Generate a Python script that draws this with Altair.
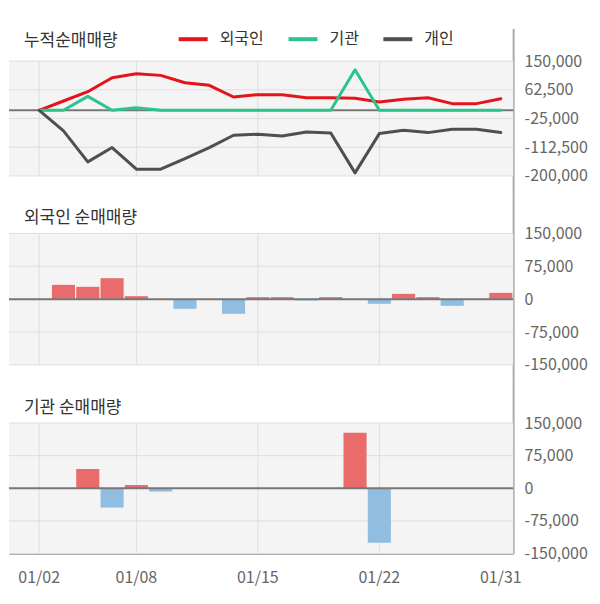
import altair as alt
import pandas as pd

# ---------------- data ----------------
dates = ["01/02", "01/03", "01/04", "01/07", "01/08", "01/09", "01/10", "01/11",
         "01/14", "01/15", "01/16", "01/17", "01/18", "01/21", "01/22", "01/23",
         "01/24", "01/25", "01/28", "01/31"]

foreign_cum = [0, 28400, 56800, 99400, 111600, 106500, 84200, 76100, 40600, 47700,
               47700, 38500, 38500, 36500, 25400, 33500, 38500, 20300, 20300, 35500]
inst_cum = [0, 0, 42600, 0, 8100, 0, 0, 0, 0, 0,
            0, 0, 0, 123800, 0, 0, 0, 0, 0, 0]
indiv_cum = [0, -62900, -157200, -113600, -179600, -179600, -147100, -113600, -76100, -73000,
             -78100, -65900, -69000, -190700, -71000, -60900, -68000, -57800, -57800, -67800]

foreign_daily = [0, 32600, 28100, 47800, 6800, 0, -22000, 0, -33400, 4600,
                 4600, -3000, 4600, 0, -10600, 12100, 4600, -15200, 0, 14400]
inst_daily = [0, 0, 44300, -44300, 7600, -7600, 0, 0, 0, 0,
              0, 0, 0, 127500, -125200, 0, 0, 0, 0, 0]

series_names = ["외국인", "기관", "개인"]
series_colors = ["#e5141b", "#2cc48c", "#4f4f4f"]

grid_dates = ["01/02", "01/08", "01/15", "01/22"]
label_dates = ["01/02", "01/08", "01/15", "01/22", "01/31"]

ticks_cum = [150000, 62500, -25000, -112500, -200000]
ticks_daily = [150000, 75000, 0, -75000, -150000]

titles = ["누적순매매량", "외국인 순매매량", "기관 순매매량"]

# ---------------- style ----------------
FONT = "Noto Sans CJK KR"
W = 505
BG = "#f4f4f4"
GRID = "#dedede"
ZERO = "#777777"
AXIS = "#aaaaaa"
RED_BAR = "#e96b6b"
BLUE_BAR = "#90bde0"

xscale = alt.Scale(type="band", domain=dates, paddingInner=0.05,
                   paddingOuter=0.4, align=0.96)

label_expr = "(datum.value < 0 ? '-' : '') + format(abs(datum.value), ',')"


def y_axis(ticks):
    return alt.Axis(orient="right", values=ticks, title=None, grid=False,
                    ticks=False, domain=True, domainColor=AXIS, domainWidth=2,
                    labelPadding=11, labelFontSize=16, labelColor="#666666",
                    labelFont=FONT, labelExpr=label_expr)


def x_axis(show):
    if not show:
        return None
    return alt.Axis(values=label_dates, title=None, labelAngle=0, ticks=False,
                    grid=False, domain=True, domainColor=AXIS, domainWidth=2,
                    labelPadding=16, labelFontSize=16, labelColor="#666666",
                    labelFont=FONT)


def base_layers(ticks, ydomain, show_x):
    ys = alt.Scale(domain=ydomain, nice=False, zero=False)
    ya = y_axis(ticks)
    xa = x_axis(show_x)
    bg_df = pd.DataFrame({"top": [ticks[0]], "bottom": [ticks[-1]]})
    bg = alt.Chart(bg_df).mark_rect(color=BG).encode(
        x=alt.value(0), x2=alt.value("width"),
        y=alt.Y("top:Q", scale=ys, axis=ya), y2="bottom:Q")
    hgrid = alt.Chart(pd.DataFrame({"v": ticks})).mark_rule(
        color=GRID, strokeWidth=1).encode(y=alt.Y("v:Q", scale=ys, axis=ya))
    vg_df = pd.DataFrame({"d": grid_dates, "top": ticks[0], "bottom": ticks[-1]})
    vgrid = alt.Chart(vg_df).mark_rule(color=GRID, strokeWidth=1).encode(
        x=alt.X("d:N", scale=xscale, axis=xa),
        y=alt.Y("top:Q", scale=ys, axis=ya), y2="bottom:Q")
    zero = alt.Chart(pd.DataFrame({"z": [0]})).mark_rule(
        color=ZERO, strokeWidth=2).encode(y=alt.Y("z:Q", scale=ys, axis=ya))
    return ys, ya, xa, bg, hgrid, vgrid, zero


def title_layer(text, ty):
    return alt.Chart(pd.DataFrame({"t": [text]})).mark_text(
        align="left", baseline="middle", font=FONT, fontSize=17,
        color="#333333").encode(x=alt.value(15), y=alt.value(ty), text="t:N")


# ---------- panel 1: cumulative lines ----------
ys1, ya1, xa1, bg1, hg1, vg1, z1 = base_layers(ticks_cum, [-258740, 249522], False)
rows = []
for name, vals in zip(series_names, [foreign_cum, inst_cum, indiv_cum]):
    for d, v in zip(dates, vals):
        rows.append({"d": d, "series": name, "v": v})
line_df = pd.DataFrame(rows)
lines = alt.Chart(line_df).mark_line(strokeWidth=3, strokeJoin="round",
                                     strokeCap="round").encode(
    x=alt.X("d:N", scale=xscale, axis=xa1),
    y=alt.Y("v:Q", scale=ys1, axis=ya1),
    color=alt.Color("series:N",
                    scale=alt.Scale(domain=series_names, range=series_colors),
                    legend=alt.Legend(orient="none", legendX=168, legendY=-6,
                                      direction="horizontal", title=None,
                                      symbolType="stroke", symbolSize=841,
                                      symbolStrokeWidth=4, labelFontSize=16,
                                      labelFont=FONT, labelColor="#333333",
                                      labelOffset=10, columnPadding=16,
                                      padding=0)),
    order=alt.value(0))
p1 = alt.layer(bg1, hg1, vg1, z1, lines, title_layer(titles[0], 12.5)).properties(
    width=W, height=167)


# ---------- bar panels ----------
def bar_panel(vals, ydomain, height, title, ty, show_x):
    ys, ya, xa, bg, hg, vg, z = base_layers(ticks_daily, ydomain, show_x)
    df = pd.DataFrame({"d": dates, "v": vals})
    bars = alt.Chart(df).mark_bar().encode(
        x=alt.X("d:N", scale=xscale, axis=xa),
        y=alt.Y("v:Q", scale=ys, axis=ya),
        y2=alt.datum(0),
        color=alt.condition("datum.v > 0", alt.value(RED_BAR), alt.value(BLUE_BAR)))
    return alt.layer(bg, hg, vg, bars, z, title_layer(title, ty)).properties(
        width=W, height=height)


p2 = bar_panel(foreign_daily, [-188724, 237244], 187, titles[1], 23, False)
p3 = bar_panel(inst_daily, [-150000, 244577], 172, titles[2], 26.3, True)

chart = alt.vconcat(p1, p2, p3, spacing=0).properties(
    padding={"left": 0, "top": 14, "right": 4, "bottom": 6}
).configure(font=FONT).configure_view(strokeWidth=0)

chart.save("out.html", embed_options={"renderer": "svg", "actions": False})
